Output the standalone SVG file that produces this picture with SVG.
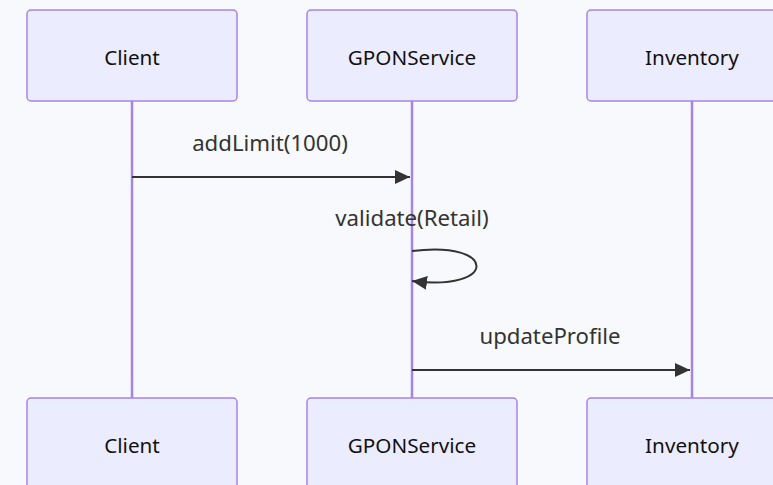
<svg xmlns="http://www.w3.org/2000/svg" width="773" height="485" viewBox="0 0 773 485">
<style>
.bg{fill:#f8f9fc}
.actor{fill:#ececff;stroke:#a584e8;stroke-width:1.5}
.life{stroke:#a584e8;stroke-width:2.5;fill:none}
.atext{font-family:"Noto Sans",sans-serif;font-size:20.7px;fill:#111;text-anchor:middle;dominant-baseline:central}
.mtext{font-family:"Noto Sans",sans-serif;font-size:22.2px;fill:#333;text-anchor:middle}
.msg{stroke:#333;stroke-width:2;fill:none}
</style>
<defs>
<marker id="ah" markerUnits="userSpaceOnUse" markerWidth="16" markerHeight="14" refX="15" refY="7" orient="auto">
<path d="M0,0 L15,7 L0,14 z" fill="#333"/>
</marker>
</defs>
<rect class="bg" x="0" y="0" width="773" height="485"/>
<g id="lifelines">
<line class="life" x1="132" y1="101" x2="132" y2="398"/>
<line class="life" x1="412" y1="101" x2="412" y2="398"/>
<line class="life" x1="692" y1="101" x2="692" y2="398"/>
</g>
<g id="actor-client-top"><rect class="actor" x="27" y="10" width="210" height="91" rx="4"/><text class="atext" x="132" y="57">Client</text></g>
<g id="actor-gpon-top"><rect class="actor" x="307" y="10" width="210" height="91" rx="4"/><text class="atext" x="412" y="57">GPONService</text></g>
<g id="actor-inventory-top"><rect class="actor" x="587" y="10" width="210" height="91" rx="4"/><text class="atext" x="692" y="57">Inventory</text></g>
<g id="actor-client-bottom"><rect class="actor" x="27" y="398" width="210" height="91" rx="4"/><text class="atext" x="132" y="445">Client</text></g>
<g id="actor-gpon-bottom"><rect class="actor" x="307" y="398" width="210" height="91" rx="4"/><text class="atext" x="412" y="445">GPONService</text></g>
<g id="actor-inventory-bottom"><rect class="actor" x="587" y="398" width="210" height="91" rx="4"/><text class="atext" x="692" y="445">Inventory</text></g>
<g id="connectors">
<line class="msg" x1="132" y1="177" x2="410" y2="177" marker-end="url(#ah)"/>
<text class="mtext" x="270" y="151">addLimit(1000)</text>
<path class="msg" d="M412,251 C498,240 498,292 412,281" marker-end="url(#ah)"/>
<text class="mtext" x="412" y="226">validate(Retail)</text>
<line class="msg" x1="412" y1="370" x2="690" y2="370" marker-end="url(#ah)"/>
<text class="mtext" x="550" y="344">updateProfile</text>
</g>
</svg>
